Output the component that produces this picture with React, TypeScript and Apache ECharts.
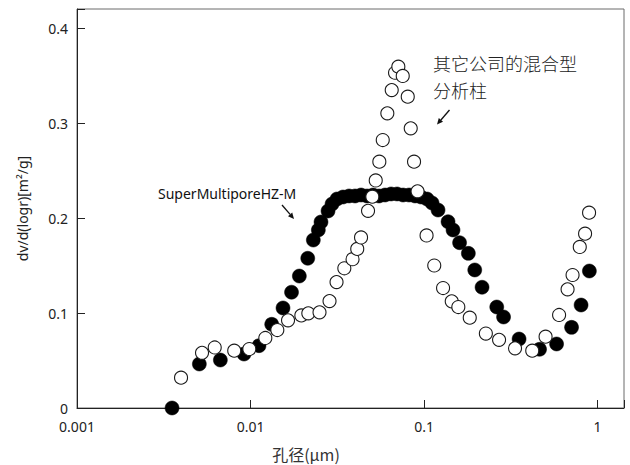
import React, { useEffect, useRef } from "react";
import * as echarts from "echarts";

// SuperMultiporeHZ-M (filled circles): pore size (µm) and dv/d(logr)
const filledX = [
  0.00353, 0.00507, 0.0067, 0.00917, 0.01119, 0.01325, 0.01539, 0.01723, 0.01911,
  0.02137, 0.02301, 0.02459, 0.02548, 0.02797, 0.0295, 0.03152, 0.03412, 0.03696,
  0.04002, 0.04334, 0.04694, 0.05083, 0.05503, 0.0596, 0.06454, 0.0699, 0.07568,
  0.08195, 0.08873, 0.0961, 0.1041, 0.1112, 0.1204, 0.1375, 0.1469, 0.1602, 0.18,
  0.196, 0.2159, 0.2624, 0.2872, 0.3529, 0.463, 0.5805, 0.7081, 0.8034, 0.8968,
];
const filledY = [
  0, 0.0463, 0.0505, 0.0568, 0.0656, 0.0881, 0.1053, 0.1219, 0.1389,
  0.1576, 0.1768, 0.1874, 0.1958, 0.2074, 0.2147, 0.22, 0.2221, 0.2232,
  0.2232, 0.2242, 0.2232, 0.2242, 0.2232, 0.2242, 0.2253, 0.2253, 0.2242,
  0.2242, 0.2232, 0.2221, 0.22, 0.2158, 0.2084, 0.1961, 0.1874, 0.174, 0.1628,
  0.1453, 0.1271, 0.1063, 0.0958, 0.0726, 0.0618, 0.0674, 0.0849, 0.1084, 0.1442,
];

// Other company's mixed-bed column (open circles)
const openX = [
  0.003977, 0.005254, 0.006218, 0.008056, 0.009842, 0.01217, 0.01427, 0.01645,
  0.01963, 0.02153, 0.02498, 0.02853, 0.03131, 0.03472, 0.03872, 0.04121, 0.04334,
  0.04756, 0.05035, 0.05267, 0.05525, 0.05781, 0.06144, 0.06512, 0.06805, 0.0711,
  0.07537, 0.08055, 0.0838, 0.08757, 0.09173, 0.1034, 0.1145, 0.1287, 0.1444,
  0.1576, 0.1834, 0.2271, 0.2706, 0.3344, 0.4203, 0.5016, 0.6001, 0.6716, 0.7176,
  0.7896, 0.8472, 0.8933,
];
const openY = [
  0.0319, 0.0581, 0.0637, 0.0603, 0.0621, 0.0737, 0.0821, 0.0923,
  0.0974, 0.0997, 0.1007, 0.1126, 0.1326, 0.1471, 0.1566, 0.1674, 0.1795,
  0.2076, 0.2224, 0.2395, 0.2593, 0.2821, 0.3102, 0.3347, 0.3529, 0.3593,
  0.3495, 0.3277, 0.2944, 0.2593, 0.2281, 0.1816, 0.15, 0.1263, 0.1123,
  0.1063, 0.0951, 0.0784, 0.0718, 0.0628, 0.0603, 0.0751, 0.0979, 0.1249, 0.14,
  0.1695, 0.1835, 0.2056,
];

const xTickLabels = ["0.001", "0.01", "0.1", "1"];
const yTickLabels = ["0", "0.1", "0.2", "0.3", "0.4"];

const FONT = "'Noto Sans', 'Noto Sans CJK SC', sans-serif";
const CJK = "'Noto Sans CJK SC', 'Noto Sans', sans-serif";

export default function App() {
  const ref = useRef<HTMLDivElement>(null);

  useEffect(() => {
    document.body.style.margin = "0";
    if (!ref.current) return;
    const chart = echarts.init(ref.current, null, { renderer: "svg" });

    const filled = filledX.map((x, i) => [x, filledY[i]]);
    const open = openX.map((x, i) => [x, openY[i]]);

    const option: any = {
      animation: false,
      backgroundColor: "#ffffff",
      grid: {
        left: 77,
        right: 6,
        top: 9,
        bottom: 57,
        show: true,
        borderColor: "#6a6a6a",
        borderWidth: 1,
        backgroundColor: "transparent",
      },
      xAxis: {
        type: "log",
        logBase: 10,
        min: 0.001,
        max: 1.42,
        axisLine: { show: true, onZero: false, lineStyle: { color: "#222", width: 1 } },
        axisTick: { show: true, inside: true, length: 8, lineStyle: { color: "#222" } },
        splitLine: { show: false },
        axisLabel: {
          margin: 11,
          color: "#222",
          fontFamily: FONT,
          fontSize: 14,
          lineHeight: 14,
          formatter: (v: number) => {
            const e = Math.log10(v);
            const r = Math.round(e);
            if (Math.abs(e - r) > 1e-6) return "";
            const idx = r + 3;
            return xTickLabels[idx] ?? "";
          },
        },
      },
      yAxis: {
        type: "value",
        min: 0,
        max: 0.42,
        interval: 0.1,
        name: "dv/d(logr)[m²/g]",
        nameLocation: "middle",
        nameRotate: 90,
        nameGap: 48,
        nameTextStyle: { color: "#222", fontFamily: FONT, fontSize: 14 },
        axisLine: { show: true, lineStyle: { color: "#222", width: 1 } },
        axisTick: { show: true, inside: true, length: 8, lineStyle: { color: "#222" } },
        splitLine: { show: false },
        axisLabel: {
          margin: 9,
          color: "#222",
          fontFamily: FONT,
          fontSize: 14,
          lineHeight: 14,
          formatter: (v: number) => {
            const k = Math.round(v * 10);
            if (Math.abs(v * 10 - k) > 1e-6) return "";
            return yTickLabels[k] ?? "";
          },
        },
      },
      series: [
        {
          name: "SuperMultiporeHZ-M",
          type: "scatter",
          data: filled,
          symbol: "circle",
          symbolSize: 14,
          itemStyle: { color: "#000", borderColor: "#000", borderWidth: 0.5, opacity: 1 },
          emphasis: { disabled: true },
          z: 2,
        },
        {
          name: "其它公司的混合型分析柱",
          type: "scatter",
          data: open,
          symbol: "circle",
          symbolSize: 13,
          itemStyle: { color: "#ffffff", borderColor: "#1a1a1a", borderWidth: 1.1, opacity: 1 },
          emphasis: { disabled: true },
          z: 3,
        },
      ],
      graphic: [
        {
          type: "text",
          x: 306,
          y: 454,
          style: {
            text: "孔径(μm)",
            fill: "#333",
            font: `16px ${CJK}`,
            lineHeight: 16,
            align: "center",
            verticalAlign: "middle",
          },
        },
        {
          type: "text",
          x: 158,
          y: 193,
          style: {
            text: "SuperMultiporeHZ-M",
            fill: "#111",
            font: `14px ${FONT}`,
            align: "left",
            verticalAlign: "middle",
          },
        },
        {
          type: "line",
          shape: { x1: 282, y1: 205, x2: 290.1, y2: 214.4 },
          style: { stroke: "#111", lineWidth: 1.3 },
        },
        {
          type: "polygon",
          shape: { points: [[294, 219], [287.97, 216.22], [292.23, 212.58]] },
          style: { fill: "#111" },
        },
        {
          type: "text",
          x: 433,
          y: 63,
          style: {
            text: "其它公司的混合型",
            fill: "#222",
            font: `300 18px ${CJK}`,
            align: "left",
            verticalAlign: "middle",
          },
        },
        {
          type: "text",
          x: 433,
          y: 90,
          style: {
            text: "分析柱",
            fill: "#222",
            font: `300 18px ${CJK}`,
            align: "left",
            verticalAlign: "middle",
          },
        },
        {
          type: "line",
          shape: { x1: 449.5, y1: 110, x2: 440.9, y2: 120 },
          style: { stroke: "#111", lineWidth: 1.3 },
        },
        {
          type: "polygon",
          shape: { points: [[437, 124.5], [438.8, 118.1], [443.0, 121.8]] },
          style: { fill: "#111" },
        },
      ],
    };

    chart.setOption(option);
    return () => chart.dispose();
  }, []);

  return <div ref={ref} style={{ width: 630, height: 465 }} />;
}
